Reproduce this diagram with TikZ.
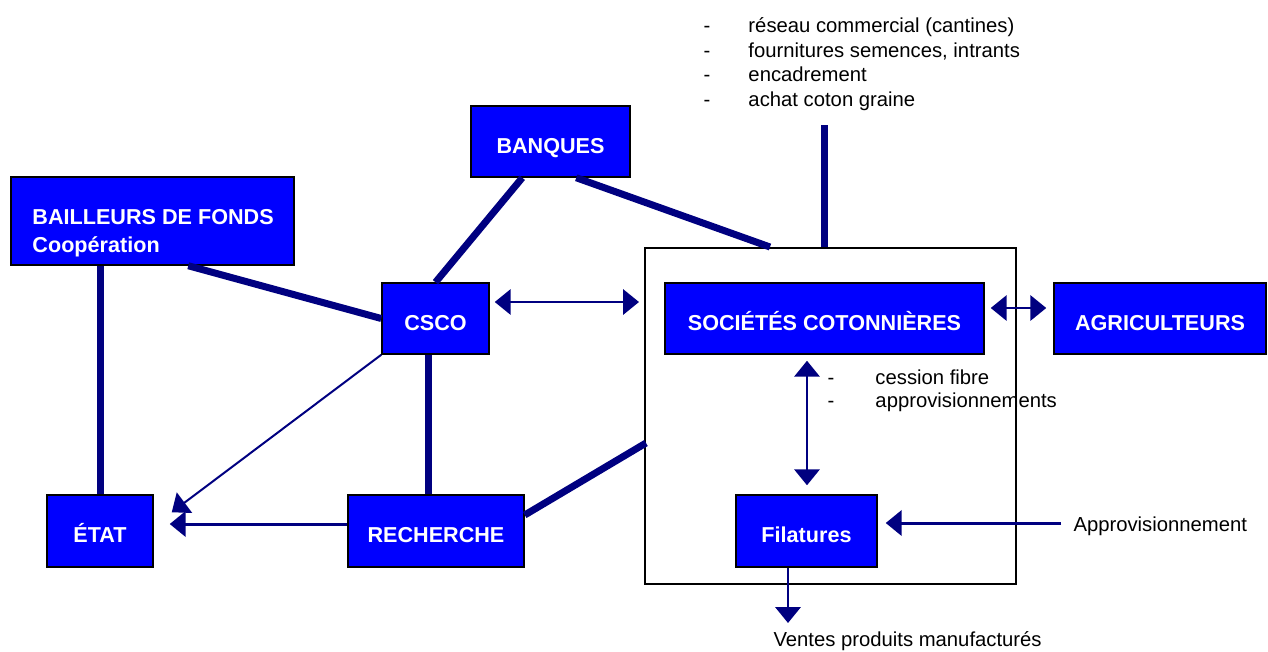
\documentclass[tikz,border=0pt]{standalone}
\usepackage{fontspec}
\setmainfont{Liberation Sans}
\usetikzlibrary{arrows.meta,calc,shadows}
\definecolor{boxblue}{RGB}{0,0,255}
\definecolor{liennavy}{RGB}{0,0,128}
\newcommand{\tiret}[1]{\makebox[#1][l]{-}}
\tikzset{every picture/.style={line width=0.75pt}}
\tikzset{
  acteur/.style={draw=black, line width=1.1pt, fill=boxblue, text=white,
    font=\fontsize{16.2}{21}\selectfont\bfseries, inner sep=0pt,
    text height=17.6pt, text depth=0pt,
    drop shadow={shadow xshift=0.9pt, shadow yshift=-0.9pt, fill=black!40, opacity=1}},
  texte/.style={inner sep=0pt, font=\fontsize{15.2}{18.45}\selectfont},
  lien/.style={draw=liennavy, line width=5.25pt},
  fleche/.style={draw=liennavy, line width=2pt, -{Triangle[length=12pt,width=19pt]}},
  doublefleche/.style={draw=liennavy, line width=1.9pt,
    {Triangle[length=12pt,width=19pt]}-{Triangle[length=12pt,width=19pt]}}
}

\begin{document}
\begin{tikzpicture}[x=0.75pt,y=0.75pt,yscale=-1,xscale=1]
\useasboundingbox (0,0) rectangle (1268,651);

%Shape: Rectangle
\node[draw=black, line width=1.5pt, minimum width=278.25pt, minimum height=252pt, inner sep=0pt] (filiere) at (830.5,416) {};

%Shape: Rectangle
\node[acteur, minimum width=119.25pt, minimum height=53.25pt] (banques) at (550.5,141.5) {BANQUES};
%Shape: Rectangle
\node[acteur, minimum width=212.25pt, minimum height=66pt] (bailleurs) at (152.5,221) {};
%Shape: Rectangle
\node[acteur, minimum width=80.25pt, minimum height=53.25pt] (csco) at (435.5,318.5) {CSCO};
%Shape: Rectangle
\node[acteur, minimum width=239.25pt, minimum height=53.25pt] (societes) at (824.5,318.5) {SOCIÉTÉS COTONNIÈRES};
%Shape: Rectangle
\node[acteur, minimum width=159pt, minimum height=53.25pt] (agriculteurs) at (1160,318.5) {AGRICULTEURS};
%Shape: Rectangle
\node[acteur, minimum width=79.5pt, minimum height=54pt] (etat) at (100,531) {ÉTAT};
%Shape: Rectangle
\node[acteur, minimum width=132pt, minimum height=54pt] (recherche) at (436,531) {RECHERCHE};
%Shape: Rectangle
\node[acteur, minimum width=105.75pt, minimum height=54pt] (filatures) at (806.5,531) {Filatures};

% Text Node
\node[texte, anchor=north west, align=left, text=white, font=\fontsize{16.2}{21}\selectfont\bfseries] (bailleurs-texte) at (32,209) {BAILLEURS DE FONDS\\Coopération};
% Text Node
\node[texte, anchor=north west, align=left] (services) at (703,17) {\tiret{33.75pt}réseau commercial (cantines)\\\tiret{33.75pt}fournitures semences, intrants\\\tiret{33.75pt}encadrement\\\tiret{33.75pt}achat coton graine};
% Text Node
\node[texte, anchor=north west, align=left, font=\fontsize{15.2}{17.5}\selectfont] (cession) at (827,369) {\tiret{36pt}cession fibre\\\tiret{36pt}approvisionnements};
% Text Node
\node[texte, anchor=west] (appro) at (1073,526) {Approvisionnement};
% Text Node
\node[texte, anchor=west] (ventes) at (773,641) {Ventes produits manufacturés};
\coordinate (services-pied) at (824.5,125);

%Straight Lines
\draw[lien] (etat.north) -- (etat.north |- bailleurs.south);
%Straight Lines
\draw[lien] ($(bailleurs.south west)+(178,0)$) -- (csco.west);
%Straight Lines
\draw[lien] ($(banques.south west)+(52,0)$) -- (csco.north);
%Straight Lines
\draw[lien] ($(banques.south west)+(106,0)$) -- ($(filiere.north west)+(126,0)$);
%Straight Lines
\draw[lien] (services-pied) -- (services-pied |- filiere.north);
%Straight Lines
\draw[lien] ($(csco.south)+(-7.5,0)$) -- ($(recherche.north)+(-8,0)$);
%Straight Lines
\draw[lien] ($(recherche.east)+(0,-16)$) -- ($(filiere.west)+(2,27)$);

%Straight Lines
\draw[fleche, line width=1.5pt] (csco.south west) -- ($(etat.north east)+(18,18)$);
%Straight Lines
\draw[fleche, line width=2.25pt] ($(recherche.west)+(0,-7)$) -- ($(etat.east)+(16,-7)$);
%Straight Lines
\draw[doublefleche] ($(csco.east)+(5,-16.5)$) -- ($(csco.east -| filiere.west)+(-5,-16.5)$);
%Straight Lines
\draw[doublefleche] ($(societes.east)+(6,-10.5)$) -- ($(agriculteurs.west)+(-7,-10.5)$);
%Straight Lines
\draw[doublefleche] ($(filatures.north)+(0.5,-9)$) -- ($(filatures.north |- societes.south)+(0.5,6)$);
%Straight Lines
\draw[fleche, line width=2.25pt] ($(appro.west)+(-12,-3)$) -- ($(appro.west -| filatures.east)+(8,-3)$);
%Straight Lines
\draw[fleche] ($(filatures.south)+(-18.5,0)$) -- ($(ventes.west)+(15,-18)$);

\end{tikzpicture}
\end{document}
